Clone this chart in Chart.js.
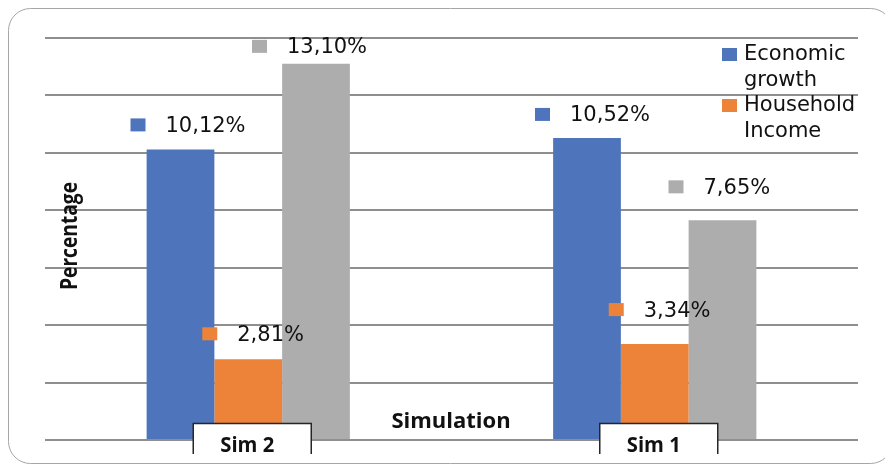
<!DOCTYPE html>
<html>
<head>
<meta charset="utf-8">
<script src="https://cdn.jsdelivr.net/npm/chart.js@4/dist/chart.umd.min.js"></script>
<style>
  html, body { margin: 0; padding: 0; background: #ffffff; }
  #wrap { width: 885px; height: 464px; position: relative; }
</style>
</head>
<body>
<div id="wrap"><canvas id="c" width="885" height="464"></canvas></div>
<script>
// ---- data ----
const categories = ['Sim 2', 'Sim 1'];
const seriesNames = ['Economic growth', 'Household Income', ''];
const economicGrowth = [10.12, 10.52];
const householdIncome = [2.81, 3.34];
const thirdSeries = [13.10, 7.65];
const yTicks = [0, 2, 4, 6, 8, 10, 12, 14];
const xTitle = 'Simulation';
const yTitle = 'Percentage';

const colors = ['#4E75BB', '#ED8339', '#ADADAD'];
const labelFont = '21px "DejaVu Sans"';

// label offsets (marker-left dx, text-middle dy) relative to bar centre/top
const labelOffsets = [
  [[-50, -24], [-52, -23]],
  [[-46, -25], [-46, -34]],
  [[-64, -17], [-54, -33]]
];

function fmt(v) { return v.toFixed(2).replace('.', ',') + '%'; }

// draw centred text, compressed horizontally to a target width
function fitText(ctx, text, x, y, font, width) {
  ctx.save();
  ctx.font = font;
  ctx.textAlign = 'center';
  ctx.textBaseline = 'middle';
  const w = ctx.measureText(text).width;
  const s = Math.min(1, width / w);
  ctx.translate(x, y);
  ctx.scale(s, 1);
  ctx.fillText(text, 0, 0);
  ctx.restore();
}

const decor = {
  id: 'decor',
  beforeDraw(chart) {
    const ctx = chart.ctx;
    ctx.save();
    ctx.fillStyle = '#ffffff';
    ctx.fillRect(0, 0, chart.width, chart.height);
    ctx.strokeStyle = '#a6a6a6';
    ctx.lineWidth = 1;
    ctx.beginPath();
    ctx.roundRect(8.5, 8.5, 884, 455, 22);
    ctx.stroke();
    ctx.restore();
  },
  afterDatasetsDraw(chart) {
    const ctx = chart.ctx;
    const xs = chart.scales.x;
    ctx.save();
    // data labels with legend keys
    chart.data.datasets.forEach((ds, di) => {
      const meta = chart.getDatasetMeta(di);
      meta.data.forEach((bar, i) => {
        const off = labelOffsets[di][i];
        const mx = bar.x + off[0];
        const my = bar.y + off[1];
        ctx.fillStyle = colors[di];
        ctx.fillRect(mx, my - 7, 15, 13);
        ctx.fillStyle = '#111111';
        ctx.font = labelFont;
        ctx.textAlign = 'left';
        ctx.textBaseline = 'middle';
        ctx.fillText(fmt(ds.data[i]), mx + 35, my + 1);
      });
    });
    // category boxes
    categories.forEach((cat, i) => {
      const cx = xs.getPixelForValue(i);
      const left = cx - 55, right = cx + 63, top = 423.5, bottom = 454;
      ctx.fillStyle = '#ffffff';
      ctx.fillRect(left, top, right - left, bottom - top);
      ctx.strokeStyle = '#262626';
      ctx.lineWidth = 1.5;
      ctx.beginPath();
      ctx.moveTo(left, bottom);
      ctx.lineTo(left, top);
      ctx.lineTo(right, top);
      ctx.lineTo(right, bottom);
      ctx.stroke();
      ctx.fillStyle = '#111111';
      fitText(ctx, cat, cx - 1, 446, 'bold 21px "Open Sans"', 54);
    });
    // axis titles
    ctx.fillStyle = '#111111';
    fitText(ctx, xTitle, 451, 422, 'bold 22px "Open Sans"', 120);
    ctx.save();
    ctx.translate(70, 236);
    ctx.rotate(-Math.PI / 2);
    fitText(ctx, yTitle, 0, 0, 'bold 24px "Open Sans"', 108);
    ctx.restore();
    // legend
    ctx.font = labelFont;
    ctx.textAlign = 'left';
    ctx.textBaseline = 'middle';
    const legendLines = [['Economic', 'growth'], ['Household', 'Income']];
    legendLines.forEach((lines, k) => {
      const y0 = 55 + k * 51;
      ctx.fillStyle = colors[k];
      ctx.fillRect(722, y0 - 7, 15, 13);
      ctx.fillStyle = '#111111';
      ctx.fillText(lines[0], 744, y0);
      ctx.fillText(lines[1], 744, y0 + 26);
    });
    ctx.restore();
  }
};

new Chart(document.getElementById('c'), {
  type: 'bar',
  data: {
    labels: categories,
    datasets: [
      { label: seriesNames[0], data: economicGrowth, backgroundColor: colors[0] },
      { label: seriesNames[1], data: householdIncome, backgroundColor: colors[1] },
      { label: seriesNames[2], data: thirdSeries, backgroundColor: colors[2] }
    ]
  },
  options: {
    responsive: false,
    animation: false,
    devicePixelRatio: 1,
    layout: { padding: { left: 45, right: 27, top: 38, bottom: 24 } },
    datasets: { bar: { barPercentage: 1, categoryPercentage: 0.5 } },
    plugins: { legend: { display: false }, tooltip: { enabled: false } },
    scales: {
      x: {
        grid: { display: false, drawTicks: false },
        border: { display: false },
        ticks: { display: false }
      },
      y: {
        min: yTicks[0],
        max: yTicks[yTicks.length - 1],
        afterBuildTicks(scale) { scale.ticks = yTicks.map(v => ({ value: v })); },
        grid: { color: '#8f8f8f', lineWidth: 2, drawTicks: false, tickLength: 0 },
        border: { display: false },
        ticks: { display: false }
      }
    }
  },
  plugins: [decor]
});
</script>
</body>
</html>
